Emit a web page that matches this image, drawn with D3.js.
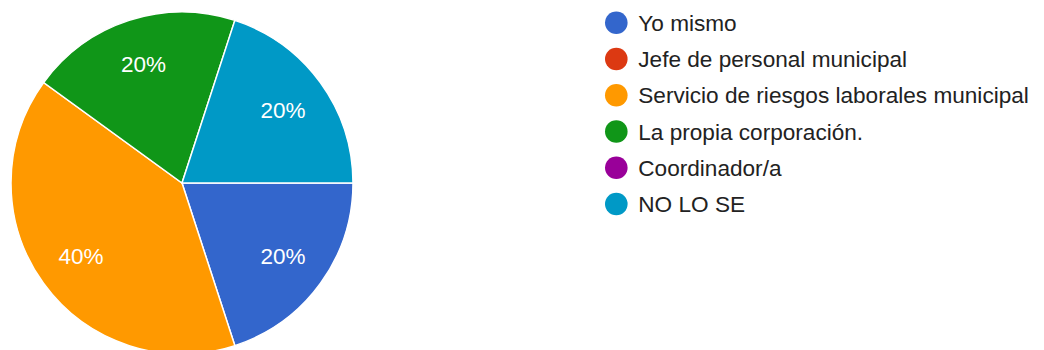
<!DOCTYPE html>
<html><head><meta charset="utf-8">
<script src="https://cdn.jsdelivr.net/npm/d3@7"></script>
<style>html,body{margin:0;padding:0;background:#fff;overflow:hidden}</style>
</head><body>
<svg id="c" width="1044" height="350"></svg>
<script>
const categories = ["Yo mismo","Jefe de personal municipal","Servicio de riesgos laborales municipal","La propia corporación.","Coordinador/a","NO LO SE"];
const values = [1,0,2,1,0,1];
const colors = ["#3366cc","#dc3912","#ff9900","#109618","#990099","#0099c6"];

const svg = d3.select("#c");
const cx = 182, cy = 183, r = 171;
const total = d3.sum(values);
const data = categories.map((c,i)=>({c, v: values[i], col: colors[i]}));
const pie = d3.pie().value(d=>d.v).sort(null).startAngle(Math.PI/2).endAngle(Math.PI/2 + 2*Math.PI);
const arcs = pie(data).filter(a=>a.data.v>0);
const arc = d3.arc().innerRadius(0).outerRadius(r);
const labelArc = d3.arc().innerRadius(r*0.73).outerRadius(r*0.73);
const g = svg.append("g").attr("transform",`translate(${cx},${cy})`);
g.selectAll("path").data(arcs).join("path")
  .attr("d",arc).attr("fill",d=>d.data.col).attr("stroke","#fff").attr("stroke-width",1.5);
const fmt = d3.format(".0%");
g.selectAll("text").data(arcs).join("text")
  .attr("transform",d=>`translate(${labelArc.centroid(d)})`)
  .attr("text-anchor","middle").attr("dy","0.36em")
  .attr("fill","#fff").attr("font-family","'Liberation Sans', Arial, sans-serif").attr("font-size",22.5)
  .text(d=>fmt(d.data.v/total));

const leg = svg.append("g");
const y = d3.scalePoint().domain(categories).range([22.7,204]);
const rows = leg.selectAll("g").data(data).join("g").attr("transform",d=>`translate(616.3,${y(d.c)})`);
rows.append("circle").attr("r",11.3).attr("fill",d=>d.col);
rows.append("text").attr("x",22).attr("dy","0.36em").attr("fill","#222")
  .attr("font-family","'Liberation Sans', Arial, sans-serif").attr("font-size",22.6).text(d=>d.c);
</script>
</body></html>
